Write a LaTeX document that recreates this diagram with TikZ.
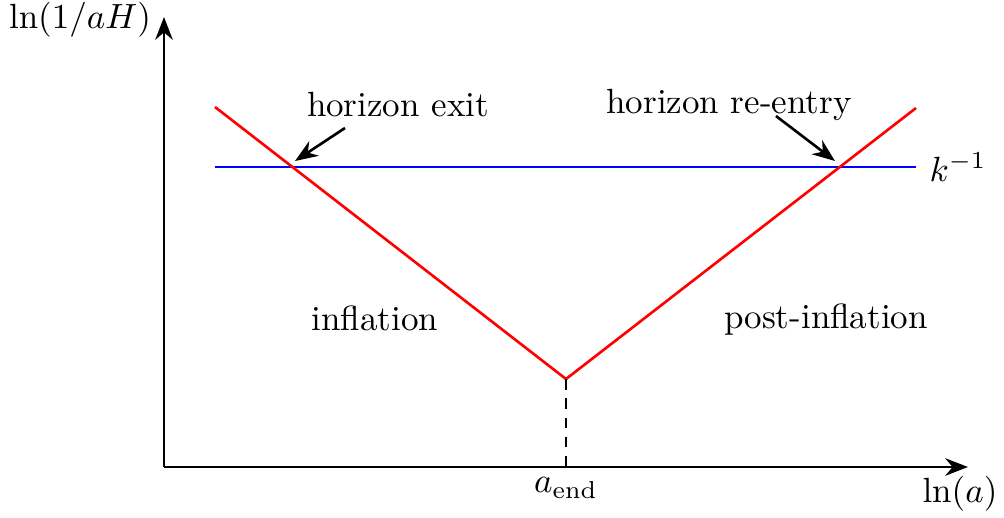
\documentclass[tikz,border=0pt]{standalone}
\usetikzlibrary{arrows.meta}
\begin{document}
\begin{tikzpicture}[x=0.2857pt,y=-0.2857pt,
  axis/.style={line width=0.85pt,-{Stealth[length=6.5pt,width=5pt]}},
  pointer/.style={line width=0.75pt,-{Stealth[length=6.5pt,width=5pt]}},
  redline/.style={red,line width=0.75pt},
  blueline/.style={blue,line width=0.75pt},
  lbl/.style={inner sep=1pt}]
\useasboundingbox (0,0) rectangle (1004,517);
\coordinate (O) at (164,467);
\coordinate (ytop) at (164,17);
\coordinate (xend) at (968,467);
\draw[axis] (O) -- (ytop);
\draw[axis] (O) -- (xend);
\coordinate (rl) at (215,107);
\coordinate (rm) at (566,379);
\coordinate (rr) at (916,108);
\coordinate (bl) at (215,167);
\coordinate (br) at (916,167);
\coordinate (rmbot) at (566,467);
\draw[blueline] (bl) -- (br);
\draw[redline] (rl) -- (rm) -- (rr);
\draw[line width=0.8pt,dash pattern=on 3pt off 2.5pt] (rm) -- (rmbot);
\node[lbl] (ylab) at (80,20) {$\ln(1/aH)$};
\node[lbl] (xlab) at (960,494) {$\ln(a)$};
\node[lbl] (kinv) at (958,167) {$k^{-1}$};
\node[lbl] (aend) at (566,488) {$a_{\mathrm{end}}$};
\node[lbl] (exit) at (398,105) {horizon exit};
\node[lbl] (reentry) at (729,105) {horizon re-entry};
\node[lbl] (infl) at (375,318) {inflation};
\node[lbl] (post) at (826,320) {post-inflation};
\coordinate (exitpt) at (295,161);
\coordinate (reentrypt) at (835,161);
\coordinate (e0) at (345,128);
\coordinate (r0) at (776,116);
\draw[pointer] (e0) -- (exitpt);
\draw[pointer] (r0) -- (reentrypt);
\end{tikzpicture}
\end{document}
